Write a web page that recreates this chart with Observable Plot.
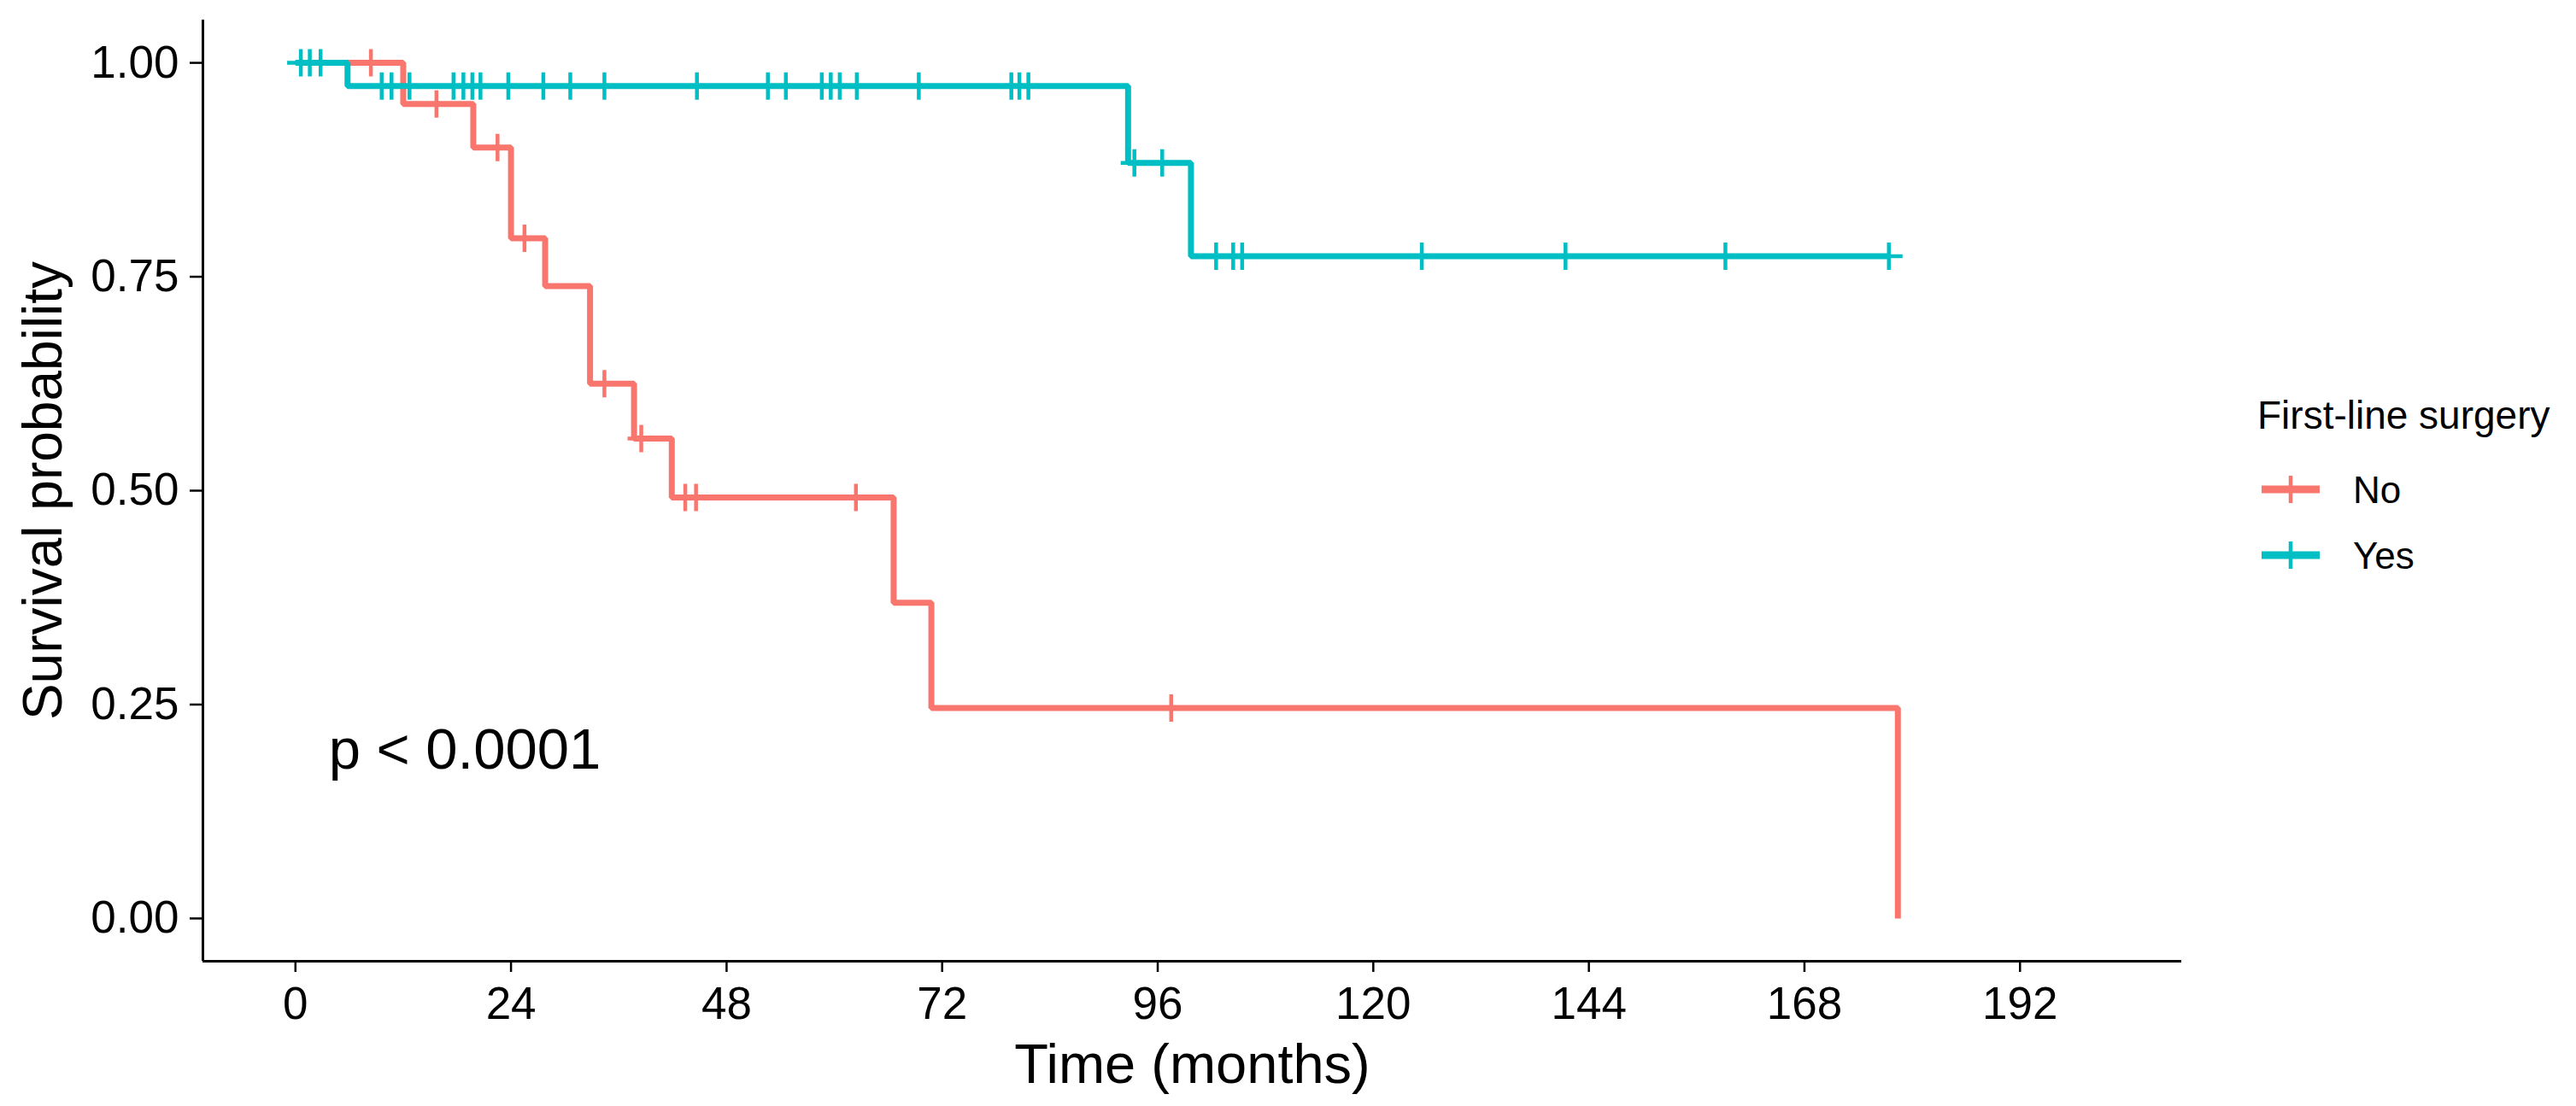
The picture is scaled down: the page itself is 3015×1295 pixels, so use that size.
<!DOCTYPE html>
<html>
<head>
<meta charset="utf-8">
<script src="https://cdn.jsdelivr.net/npm/d3@7"></script>
<script src="https://cdn.jsdelivr.net/npm/@observablehq/plot@0.6"></script>
<style>
  body { margin: 0; background: #fff; }
  #wrap { position: relative; width: 3015px; height: 1295px; font-family: "Liberation Sans", Arial, sans-serif; background: #fff; }
  #legend { position: absolute; left: 0; top: 0; pointer-events: none; }
</style>
</head>
<body>
<div id="wrap"></div>
<script>
// ---- data ----
const groups = ["No", "Yes"];
const colors = ["#F8766D", "#00BFC4"];
const legendTitle = "First-line surgery";

// Group "No": event times (months) and survival after each step
const noTimes = [0, 12.0, 19.8, 24.0, 27.8, 32.8, 37.7, 41.9, 66.6, 70.8, 178.4];
const noSurv  = [1.000, 0.952, 0.901, 0.795, 0.739, 0.625, 0.561, 0.492, 0.369, 0.246, 0.000];
const noEnd   = 178.4;
const noCensor = [8.4, 15.7, 22.5, 25.5, 34.4, 38.5, 43.4, 44.6, 62.4, 97.5];

// Group "Yes"
const yesTimes = [0, 5.8, 92.7, 99.7];
const yesSurv  = [1.000, 0.973, 0.883, 0.774];
const yesEnd   = 177.4;
const yesCensor = [0.6, 1.6, 2.8, 9.6, 10.7, 12.7, 17.6, 18.7, 19.7, 20.6, 23.7, 27.6, 30.6, 34.4,
                   44.7, 52.6, 54.6, 58.6, 59.6, 60.6, 62.5, 69.4, 79.7, 80.6, 81.6, 93.4, 96.5,
                   102.5, 104.4, 105.4, 125.4, 141.4, 159.2, 177.4];

const xTicks = [0, 24, 48, 72, 96, 120, 144, 168, 192];
const yTicks = [0, 0.25, 0.5, 0.75, 1];
const xDomain = [-10.3, 210];
const yDomain = [-0.05, 1.05];
const xLabel = "Time (months)";
const yLabel = "Survival probability";
const pvalText = "p < 0.0001";
const pvalX = 3.7;
const pvalY = 0.197;

// ---- build tables ----
const series = [
  {group: "No", times: noTimes, surv: noSurv, end: noEnd, censor: noCensor},
  {group: "Yes", times: yesTimes, surv: yesSurv, end: yesEnd, censor: yesCensor}
];
function survAt(times, surv, t) {
  let s = surv[0];
  for (let i = 0; i < times.length; i++) if (times[i] <= t) s = surv[i];
  return s;
}
const lineData = [];
const censorData = [];
for (const sr of series) {
  sr.times.forEach((t, i) => lineData.push({group: sr.group, t, s: sr.surv[i]}));
  if (sr.end > sr.times[sr.times.length - 1]) lineData.push({group: sr.group, t: sr.end, s: sr.surv[sr.surv.length - 1]});
}
for (const sr of series) {
  sr.censor.forEach(t => censorData.push({group: sr.group, t, s: survAt(sr.times, sr.surv, t)}));
}

const cross = {
  draw(ctx, size) {
    const r = Math.sqrt(size / Math.PI);
    ctx.moveTo(-r, 0); ctx.lineTo(r, 0);
    ctx.moveTo(0, -r); ctx.lineTo(0, r);
  }
};

const font = "Liberation Sans, Arial, sans-serif";
const chart = Plot.plot({
  width: 3015,
  height: 1295,
  marginLeft: 237,
  marginRight: 462,
  marginTop: 23,
  marginBottom: 170,
  style: {fontFamily: font, background: "white", color: "black", overflow: "visible"},
  x: {domain: xDomain},
  y: {domain: yDomain},
  color: {domain: groups, range: colors},
  marks: [
    Plot.axisX({ticks: xTicks, tickSize: 13, tickPadding: 17, fontSize: 53, label: null, strokeWidth: 2.5}),
    Plot.axisY({ticks: yTicks, tickFormat: d3.format(".2f"), tickSize: 15, tickPadding: 13, fontSize: 53, label: null, strokeWidth: 2.5}),
    Plot.ruleY([yDomain[0]], {stroke: "black", strokeWidth: 3}),
    Plot.ruleX([xDomain[0]], {stroke: "black", strokeWidth: 3}),
    Plot.line(lineData, {x: "t", y: "s", z: "group", stroke: "group", curve: "step-after",
      strokeWidth: 7, strokeLinejoin: "miter", strokeLinecap: "butt"}),
    Plot.dot(censorData, {x: "t", y: "s", stroke: "group", symbol: cross, r: 16, strokeWidth: 4.5, fill: "none"}),
    Plot.text([{x: pvalX, y: pvalY, label: pvalText}], {x: "x", y: "y", text: "label",
      textAnchor: "start", lineAnchor: "middle", fontSize: 67, fill: "black"}),
    Plot.text([xLabel], {text: d => d, frameAnchor: "bottom", dy: 142, textAnchor: "middle", lineAnchor: "bottom", fontSize: 65, fill: "black"}),
    Plot.text([yLabel], {text: d => d, frameAnchor: "left", dx: -166, rotate: -90, textAnchor: "middle", lineAnchor: "bottom", fontSize: 64, fill: "black"})
  ]
});
const wrap = document.getElementById("wrap");
wrap.appendChild(chart);

// ---- legend (right side) ----
const leg = d3.select(wrap).append("svg").attr("id", "legend")
  .attr("width", 3015).attr("height", 1295)
  .style("font-family", font);
leg.append("text").attr("x", 2642).attr("y", 502).attr("font-size", 46).attr("fill", "black").text(legendTitle);
groups.forEach((g, i) => {
  const cy = 573 + i * 77;
  const row = leg.append("g");
  row.append("line").attr("x1", 2647).attr("x2", 2715).attr("y1", cy).attr("y2", cy)
    .attr("stroke", colors[i]).attr("stroke-width", 9);
  row.append("line").attr("x1", 2681).attr("x2", 2681).attr("y1", cy - 16).attr("y2", cy + 16)
    .attr("stroke", colors[i]).attr("stroke-width", 4.5);
  row.append("text").attr("x", 2754).attr("y", cy + 16).attr("font-size", 44).attr("fill", "black").text(g);
});
</script>
</body>
</html>
